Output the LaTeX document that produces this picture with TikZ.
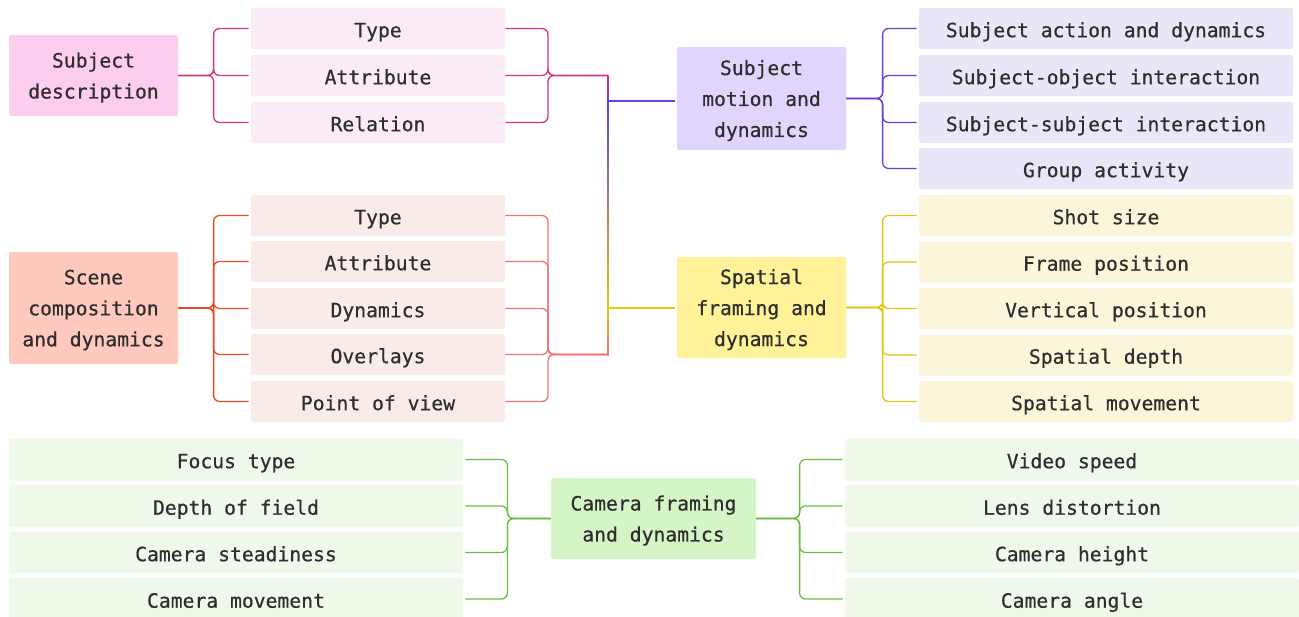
\documentclass[tikz,border=0pt]{standalone}
\usepackage{fontspec}
\newfontfamily\diagfont{DejaVu Sans Mono}[FakeBold=0.6]
\usetikzlibrary{calc}
\definecolor{textc}{HTML}{2E2E2E}
\definecolor{pinkHead}{HTML}{FDCDEE}
\definecolor{pinkLeaf}{HTML}{FBEBF6}
\definecolor{pinkLine}{HTML}{D63384}
\definecolor{sceneHead}{HTML}{FFC9BE}
\definecolor{sceneLeaf}{HTML}{F9ECE8}
\definecolor{sceneLineL}{HTML}{E84A27}
\definecolor{sceneLineR}{HTML}{F27272}
\definecolor{purpleHead}{HTML}{E0D5FD}
\definecolor{purpleLeaf}{HTML}{EAE6F8}
\definecolor{purpleLine}{HTML}{6B3FD4}
\definecolor{yellowHead}{HTML}{FFF298}
\definecolor{yellowLeaf}{HTML}{FBF6DA}
\definecolor{yellowLine}{HTML}{E3C60F}
\definecolor{greenHead}{HTML}{D4F5C6}
\definecolor{greenLeaf}{HTML}{EFF9E9}
\definecolor{greenLine}{HTML}{6BBE45}
\begin{document}
\begin{tikzpicture}[x=0.5pt,y=-0.5pt,
  box/.style={rounded corners=1pt,align=center,inner sep=0pt,text=textc,
    font=\diagfont\fontsize{9.85}{15.5}\selectfont},
  head/.style={box,minimum width=84.5pt,text depth=0pt},
  leaf/.style={box,minimum width=127pt,minimum height=20.5pt,text height=9.7pt,text depth=1pt},
  rleaf/.style={leaf,minimum width=187pt},
  cleaf/.style={leaf,minimum width=227pt,minimum height=21pt},
  link/.style={line width=0.65pt,rounded corners=3pt,shorten >=1pt}]
% one px of the sketch is half a point
\clip (0,0) rectangle (1299,616);
\fill[white] (0,0) rectangle (1299,616);
% heads
\node[head,fill=pinkHead,minimum height=40.5pt] (sd) at (93.5,75.5) {Subject\\description};
\node[head,fill=sceneHead,minimum height=56pt] (sc) at (93.5,308) {Scene\\composition\\and dynamics};
\node[head,fill=purpleHead,minimum height=51.5pt] (sm) at (761.5,98.5) {Subject\\motion and\\dynamics};
\node[head,fill=yellowHead,minimum height=50.5pt] (sp) at (761.5,307.5) {Spatial\\framing and\\dynamics};
\node[head,fill=greenHead,minimum width=102.5pt,minimum height=40.5pt] (cf) at (653.5,518.5) {Camera framing\\and dynamics};
% leaves
\foreach \txt/\y [count=\i] in {Type/28.5,Attribute/75.5,Relation/122.5}
  \node[leaf,fill=pinkLeaf] (sd\i) at (378,\y) {\txt};
\foreach \txt/\y [count=\i] in {Type/215.5,Attribute/261.5,Dynamics/308.5,Overlays/354.5,Point of view/401.5}
  \node[leaf,fill=sceneLeaf] (sc\i) at (378,\y) {\txt};
\foreach \txt/\y [count=\i] in {Subject action and dynamics/28.5,Subject-object interaction/75.5,
    Subject-subject interaction/122.5,Group activity/168.5}
  \node[rleaf,fill=purpleLeaf] (sm\i) at (1106,\y) {\txt};
\foreach \txt/\y [count=\i] in {Shot size/215.5,Frame position/262,Vertical position/308.5,
    Spatial depth/355,Spatial movement/401.5}
  \node[rleaf,fill=yellowLeaf] (sp\i) at (1106,\y) {\txt};
\foreach \txt/\y [count=\i] in {Focus type/459.5,Depth of field/506,Camera steadiness/552.5,Camera movement/599}
  \node[cleaf,fill=greenLeaf] (cl\i) at (236,\y) {\txt};
\foreach \txt/\y [count=\i] in {Video speed/459.5,Lens distortion/506,Camera height/552.5,Camera angle/599}
  \node[cleaf,fill=greenLeaf] (cr\i) at (1072,\y) {\txt};
% trunk
\coordinate (trA) at (608,75.5);
\coordinate (trM) at (608,101);
\coordinate (trN) at (608,308);
\coordinate (trB) at (608,354.5);
\shade[top color=pinkLine,bottom color=purpleLine] (607.35,75.5) rectangle (608.65,101);
\shade[top color=purpleLine,middle color=sceneLineR,bottom color=yellowLine] (607.35,101) rectangle (608.65,308);
\shade[top color=yellowLine,bottom color=sceneLineR] (607.35,308) rectangle (608.65,355.1);
\draw[link,purpleLine] (trM) -- (trM -| sm.west);
\draw[link,yellowLine] (trN) -- (trN -| sp.west);
% brackets
\foreach \i in {1,2,3} {
  \draw[link,pinkLine] (sd.east) -| ($(sd\i.west)+(-37,0)$) -- (sd\i.west);
  \draw[link,pinkLine,shorten >=0pt] (sd\i.east) -| ($(trA)+(-60,0)$) -- (trA);
}
\foreach \i in {1,...,5} {
  \draw[link,sceneLineL] (sc.east) -| ($(sc\i.west)+(-37,0)$) -- (sc\i.west);
  \draw[link,sceneLineR,shorten >=0pt] (sc\i.east) -| ($(trB)+(-60,0)$) -- (trB);
  \draw[link,yellowLine] (sp.east) -| ($(sp\i.west)+(-36,0)$) -- (sp\i.west);
}
\foreach \i in {1,...,4} {
  \draw[link,purpleLine] (sm.east) -| ($(sm\i.west)+(-36,0)$) -- (sm\i.west);
  \draw[link,greenLine] (cf.west) -| ($(cl\i.east)+(44,0)$) -- (cl\i.east);
  \draw[link,greenLine] (cf.east) -| ($(cr\i.west)+(-45,0)$) -- (cr\i.west);
}
\end{tikzpicture}
\end{document}
